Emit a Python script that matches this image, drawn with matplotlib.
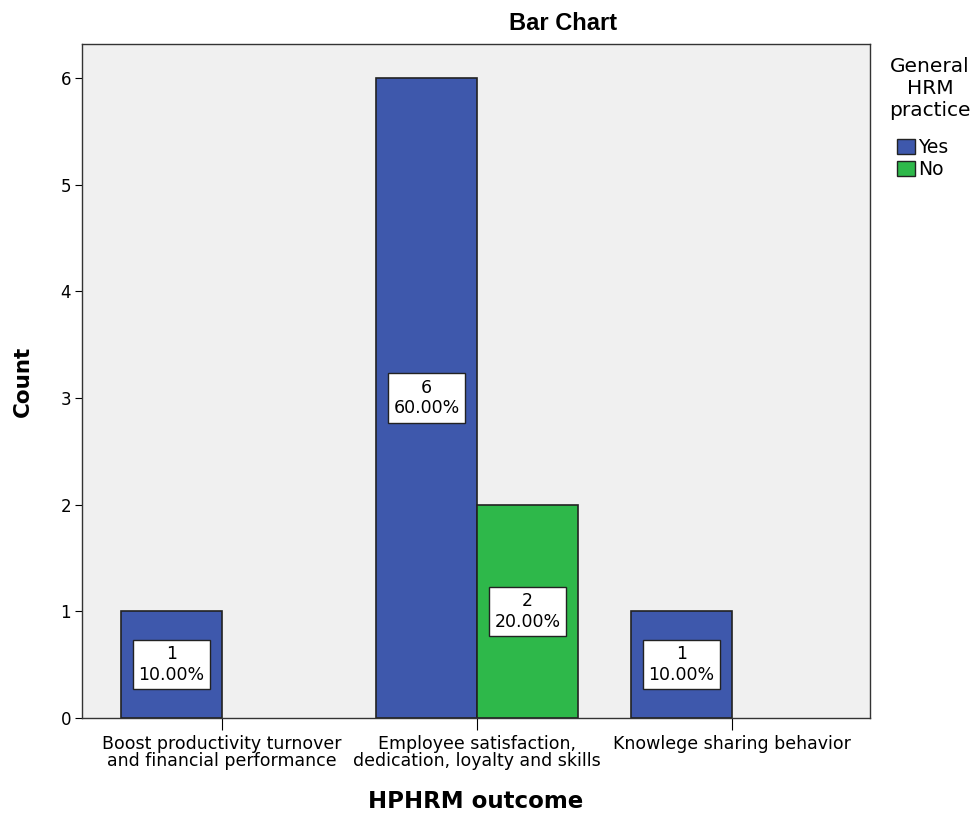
import numpy as np
import matplotlib.pyplot as plt
from matplotlib.patches import Patch

plt.rcParams['font.family'] = ['DejaVu Sans']

# data
categories = ['Boost productivity turnover\nand financial performance',
              'Employee satisfaction,\ndedication, loyalty and skills',
              'Knowlege sharing behavior']
yes_counts = [1, 6, 1]
no_counts = [0, 2, 0]
total = 10
blue = '#3E58AC'
green = '#2EB84A'

fig = plt.figure(figsize=(9.74, 8.14), dpi=100)
ax = fig.add_axes([0.0842, 0.118, 0.8090, 0.828])
ax.set_facecolor('#F0F0F0')

x = np.arange(len(categories))
w = 0.396

def label(xc, v):
    ax.text(xc, v / 2, f'{v}\n{v / total * 100:.2f}%', ha='center', va='center',
            fontsize=12.5, linespacing=1.2, zorder=3,
            bbox=dict(boxstyle='square,pad=0.3', fc='white', ec='#222222', lw=1))

for i in range(len(categories)):
    if yes_counts[i] > 0:
        ax.bar(x[i] - w / 2, yes_counts[i], w, color=blue, edgecolor='#222222', lw=1.2, zorder=2)
        label(x[i] - w / 2, yes_counts[i])
    if no_counts[i] > 0:
        ax.bar(x[i] + w / 2, no_counts[i], w, color=green, edgecolor='#222222', lw=1.2, zorder=2)
        label(x[i] + w / 2, no_counts[i])

ax.set_xlim(-0.549, 2.541)
ax.set_ylim(0, 6.32)
ax.set_yticks(range(7))
ax.set_xticks(x)
ax.set_xticklabels(categories, fontsize=12.5, linespacing=0.98)
ax.tick_params(axis='y', labelsize=12, length=5, direction='out', pad=3)
ax.tick_params(axis='x', length=8.5, direction='out', pad=3.5)
for s in ax.spines.values():
    s.set_color('#333333')
    s.set_linewidth(1)

ax.set_ylabel('Count', fontsize=15.5, fontweight='bold')
ax.yaxis.set_label_coords(-0.062, 0.5)
ax.set_xlabel('HPHRM outcome', fontsize=16.5, fontweight='bold')
ax.xaxis.set_label_coords(0.5, -0.107)
fig.text(0.578, 0.971, 'Bar Chart', ha='center', va='center', fontsize=17,
         fontweight='bold', family='Liberation Sans')

# legend
fig.text(930 / 974, 1 - 57 / 814, 'General\nHRM\npractice', ha='center', va='top',
         multialignment='center', fontsize=14.5, linespacing=1.2)
handles = [Patch(facecolor=blue, edgecolor='#222222'), Patch(facecolor=green, edgecolor='#222222')]
fig.legend(handles, ['Yes', 'No'], loc='upper left', bbox_to_anchor=(897 / 974, 1 - 138 / 814),
           frameon=False, fontsize=13.5, handlelength=0.95, handleheight=0.9,
           handletextpad=0.15, labelspacing=0.15, borderpad=0, borderaxespad=0)

fig.savefig('out.png', dpi=100)
